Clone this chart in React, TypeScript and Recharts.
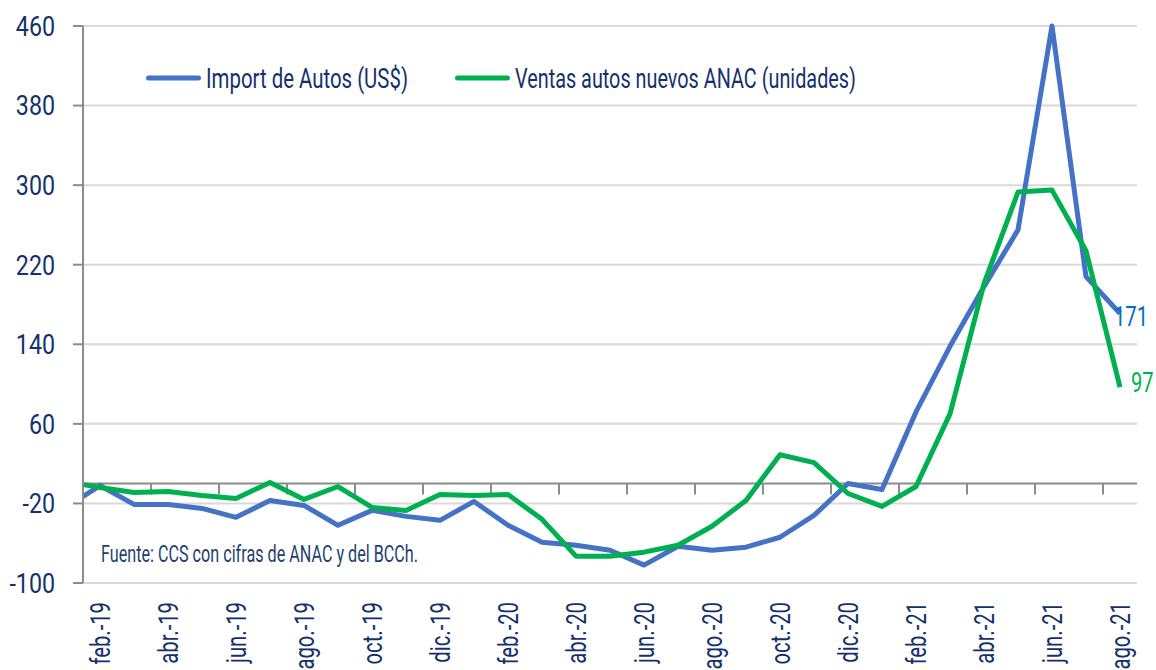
import React from 'react';
import { ComposedChart, Line, XAxis, YAxis, CartesianGrid, ReferenceLine, Legend } from 'recharts';

const months = [
  'ene.-19', 'feb.-19', 'mar.-19', 'abr.-19', 'may.-19', 'jun.-19', 'jul.-19', 'ago.-19', 'sep.-19', 'oct.-19', 'nov.-19', 'dic.-19',
  'ene.-20', 'feb.-20', 'mar.-20', 'abr.-20', 'may.-20', 'jun.-20', 'jul.-20', 'ago.-20', 'sep.-20', 'oct.-20', 'nov.-20', 'dic.-20',
  'ene.-21', 'feb.-21', 'mar.-21', 'abr.-21', 'may.-21', 'jun.-21', 'jul.-21', 'ago.-21',
];
const importAutos = [
  -24, -2, -21, -21, -25, -34, -17, -22, -42, -27, -33, -37,
  -18, -42, -59, -62, -67, -82, -63, -67, -64, -54, -32, 0,
  -6, 72, 138, 198, 255, 460, 208, 171,
];
const ventasAnac = [
  2, -4, -9, -8, -12, -15, 1, -16, -3, -24, -27, -11,
  -12, -11, -36, -73, -73, -69, -62, -43, -17, 29, 21, -10,
  -23, -3, 70, 201, 293, 295, 234, 97,
];
const yTicks = [-100, -20, 60, 140, 220, 300, 380, 460];
const labelTicks = [1, 3, 5, 7, 9, 11, 13, 15, 17, 19, 21, 23, 25, 27, 29, 31];
const tickMarks = [2.5, 4.5, 6.5, 8.5, 10.5, 12.5, 14.5, 16.5, 18.5, 20.5, 22.5, 24.5, 26.5, 28.5, 30.5];
const seriesNames = ['Import de Autos (US$)', 'Ventas autos nuevos ANAC (unidades)'];
const sourceNote = 'Fuente: CCS con cifras de ANAC y del BCCh.';

const data = months.map((m, i) => ({ i, m, imp: importAutos[i], ven: ventasAnac[i] }));
const lastIdx = months.length - 1;

const FONT = "Roboto, 'Liberation Sans', sans-serif";
const NAVY = '#14316B';
const NOTE = '#1F3F6E';
const BLUE = '#4472C4';
const GREEN = '#00B050';
const AXIS = '#8C8C8C';
const GRID = '#D9D9D9';

const XTick = (props: any) => {
  const { x, y, payload } = props;
  return (
    <g transform={`translate(${x},${y}) rotate(-90) scale(0.75,1)`}>
      <text x={0} y={0} textAnchor="end" dy={10} fill={NAVY} fontSize={27} fontFamily={FONT}>
        {months[payload.value]}
      </text>
    </g>
  );
};

const YTick = (props: any) => {
  const { x, y, payload } = props;
  return (
    <g transform={`translate(${x},${y}) scale(0.83,1)`}>
      <text x={0} y={0} textAnchor="end" dominantBaseline="central" fill={NAVY} fontSize={28} fontFamily={FONT}>
        {payload.value}
      </text>
    </g>
  );
};

const endLabel = (color: string, dx: number, dy: number) => (props: any) => {
  const { x, y, value, index } = props;
  if (index !== lastIdx) return <g />;
  return (
    <g transform={`translate(${x + dx},${y + dy}) scale(0.72,1)`}>
      <text x={0} y={0} fill={color} fontSize={28} fontFamily={FONT} dominantBaseline="central">
        {value}
      </text>
    </g>
  );
};

const legendLayout = [
  { x1: 148.5, x2: 198.5, tx: 206, len: 202 },
  { x1: 457.5, x2: 507.5, tx: 515, len: 341 },
];

const renderLegend = (props: any) => {
  const payload = props.payload || [];
  return (
    <svg width={1156} height={110} style={{ display: 'block' }}>
      {payload.map((p: any, k: number) => {
        const L = legendLayout[k];
        return (
          <g key={k}>
            <line x1={L.x1} y1={78} x2={L.x2} y2={78} stroke={p.color} strokeWidth={5} strokeLinecap="round" />
            <text
              x={L.tx}
              y={88}
              fill={NAVY}
              fontSize={28}
              fontFamily={FONT}
              textLength={L.len}
              lengthAdjust="spacingAndGlyphs"
            >
              {p.value}
            </text>
          </g>
        );
      })}
    </svg>
  );
};

export default function App() {
  return (
    <div style={{ position: 'relative', width: 1156, height: 670, background: '#fff', fontFamily: FONT }}>
      <style>{'body{margin:0}'}</style>
      <ComposedChart width={1156} height={670} data={data} margin={{ top: 26, right: 19, left: 0, bottom: 0 }}>
        <CartesianGrid horizontal vertical={false} stroke={GRID} strokeWidth={2} />
        <XAxis
          type="number"
          dataKey="i"
          domain={[0.5, 31.5]}
          allowDataOverflow
          ticks={labelTicks}
          interval={0}
          axisLine={false}
          tickLine={false}
          tickSize={0}
          tickMargin={19}
          height={87}
          tick={<XTick />}
        />
        <YAxis
          type="number"
          domain={[-100, 460]}
          ticks={yTicks}
          interval={0}
          width={83}
          axisLine={{ stroke: AXIS, strokeWidth: 2 }}
          tickLine={{ stroke: AXIS, strokeWidth: 2 }}
          tickSize={10}
          tickMargin={18}
          tick={<YTick />}
        />
        <ReferenceLine y={0} stroke={AXIS} strokeWidth={2} />
        {tickMarks.map((t) => (
          <ReferenceLine key={t} segment={[{ x: t, y: 0 }, { x: t, y: -11 }]} stroke={AXIS} strokeWidth={2} />
        ))}
        <Legend
          layout="horizontal"
          verticalAlign="middle"
          align="center"
          content={renderLegend}
          wrapperStyle={{ left: 0, top: 0, width: 1156, height: 110 }}
        />
        <Line
          type="linear"
          dataKey="imp"
          name={seriesNames[0]}
          stroke={BLUE}
          strokeWidth={5}
          strokeLinejoin="round"
          dot={false}
          activeDot={false}
          isAnimationActive={false}
          label={endLabel('#0070C0', -6, 3)}
        />
        <Line
          type="linear"
          dataKey="ven"
          name={seriesNames[1]}
          stroke={GREEN}
          strokeWidth={5}
          strokeLinejoin="round"
          dot={false}
          activeDot={false}
          isAnimationActive={false}
          label={endLabel(GREEN, 11, -5)}
        />
      </ComposedChart>
      <svg width={420} height={44} style={{ position: 'absolute', left: 90, top: 530, overflow: 'visible' }}>
        <text
          x={11}
          y={31.5}
          fill={NOTE}
          fontSize={23}
          fontFamily={FONT}
          textLength={317}
          lengthAdjust="spacingAndGlyphs"
        >
          {sourceNote}
        </text>
      </svg>
    </div>
  );
}
